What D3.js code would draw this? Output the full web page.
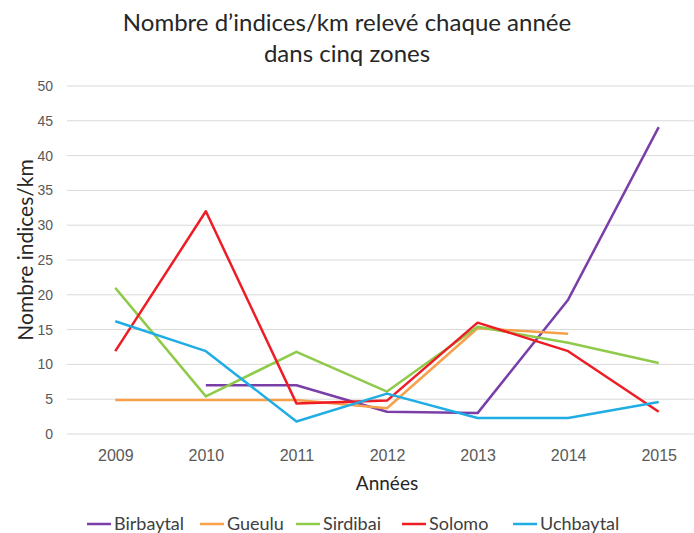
<!DOCTYPE html>
<html>
<head>
<meta charset="utf-8">
<script src="https://cdn.jsdelivr.net/npm/d3@7"></script>
<style>
  body { margin: 0; background: #fff; }
  svg { display: block; font-family: Lato, "Open Sans", sans-serif; }
  .grid line { stroke: #d9d9d9; stroke-width: 1; }
  .tick text { fill: #595959; font-size: 14px; }
</style>
</head>
<body>
<script>
// categories and series values
var years = ["2009", "2010", "2011", "2012", "2013", "2014", "2015"];
var yTicks = [0, 5, 10, 15, 20, 25, 30, 35, 40, 45, 50];

var birbaytal = [null, 7, 7, 3.2, 3, 19.3, 44.1];
var gueulu    = [4.9, 4.9, 4.9, 3.7, 15.2, 14.4, null];
var sirdibai  = [21, 5.4, 11.8, 6.1, 15.4, 13.1, 10.2];
var solomo    = [11.9, 32, 4.4, 4.8, 16, 11.9, 3.2];
var uchbaytal = [16.2, 11.9, 1.8, 5.8, 2.3, 2.3, 4.6];

var names  = ["Birbaytal", "Gueulu", "Sirdibai", "Solomo", "Uchbaytal"];
var values = [birbaytal, gueulu, sirdibai, solomo, uchbaytal];
var colors = ["#7a3ea8", "#f7a04c", "#8fca4a", "#ee1c25", "#1fade4"];

var width = 694, height = 533;
var plot = {left: 70, right: 704, top: 86, bottom: 434};

var svg = d3.select("body").append("svg")
    .attr("width", width)
    .attr("height", height);

// scales
var x = d3.scalePoint().domain(years)
    .range([plot.left, plot.right]).padding(0.5);
var y = d3.scaleLinear().domain([0, 50])
    .range([plot.bottom, plot.top]);

// horizontal gridlines
svg.append("g")
    .attr("class", "grid")
    .selectAll("line")
    .data(yTicks)
    .enter()
    .append("line")
    .attr("x1", plot.left - 3)
    .attr("x2", plot.right)
    .attr("y1", function(d){ return y(d); })
    .attr("y2", function(d){ return y(d); });

// y axis labels
var yAxis = svg.append("g")
    .attr("transform", "translate(" + (plot.left - 3) + ",0)")
    .call(d3.axisLeft(y).tickValues(yTicks).tickSize(0).tickPadding(14));
yAxis.select(".domain").remove();

// x axis labels
var xAxis = svg.append("g")
    .attr("transform", "translate(0," + plot.bottom + ")")
    .call(d3.axisBottom(x).tickSize(0).tickPadding(16));
xAxis.select(".domain").remove();
xAxis.selectAll("text").style("font-size", "16px");

// lines
var line = d3.line()
    .defined(function(d){ return d != null; })
    .x(function(d, i){ return x(years[i]); })
    .y(function(d){ return y(d); });

svg.selectAll(".series")
    .data(values)
    .enter()
    .append("path")
    .attr("class", "series")
    .attr("fill", "none")
    .attr("stroke", function(d, i){ return colors[i]; })
    .attr("stroke-width", 2.5)
    .attr("stroke-linejoin", "round")
    .attr("d", line);

// title
var title = svg.append("text")
    .attr("text-anchor", "middle")
    .style("font-size", "24px")
    .style("fill", "#262626");
title.append("tspan").attr("x", 347).attr("y", 31)
    .text("Nombre d\u2019indices/km relev\u00e9 chaque ann\u00e9e");
title.append("tspan").attr("x", 347).attr("y", 62)
    .text("dans cinq zones");

// axis titles
svg.append("text")
    .attr("transform", "translate(33,250) rotate(-90)")
    .attr("text-anchor", "middle")
    .style("font-size", "21px")
    .style("fill", "#262626")
    .text("Nombre indices/km");

svg.append("text")
    .attr("x", 387)
    .attr("y", 490)
    .attr("text-anchor", "middle")
    .style("font-size", "19px")
    .style("fill", "#262626")
    .text("Ann\u00e9es");

// legend
var legendX = [87, 200, 296, 402, 513];
var legend = svg.selectAll(".legend")
    .data(names)
    .enter()
    .append("g")
    .attr("class", "legend")
    .attr("transform", function(d, i){ return "translate(" + legendX[i] + ",524)"; });

legend.append("line")
    .attr("x1", 0).attr("x2", 24)
    .attr("stroke", function(d, i){ return colors[i]; })
    .attr("stroke-width", 2.5);

legend.append("text")
    .attr("x", 27)
    .attr("dy", "0.35em")
    .style("font-size", "18px")
    .style("fill", "#404040")
    .text(function(d){ return d; });
</script>
</body>
</html>
